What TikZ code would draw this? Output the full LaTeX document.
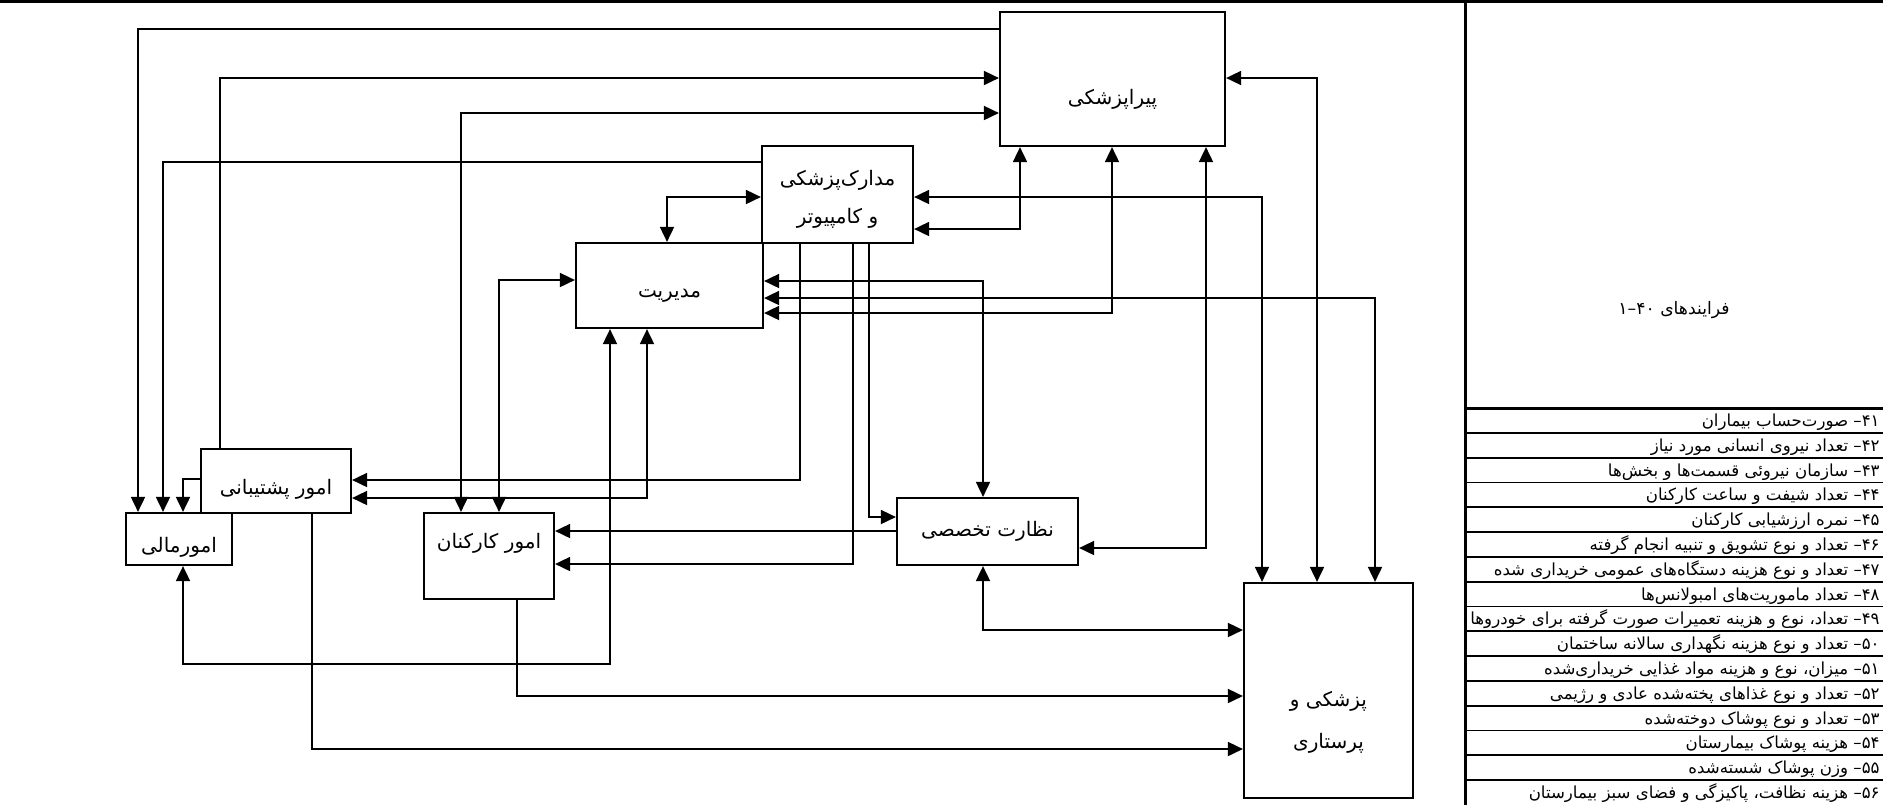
\documentclass[tikz,border=0pt]{standalone}
\usepackage{fontspec}
\setmainfont{DejaVu Sans}
\newfontfamily\fa[Script=Arabic]{DejaVu Sans}
\TeXXeTstate=1
\usetikzlibrary{arrows.meta}
\newcommand{\RL}[1]{\beginR #1\endR}
\tikzset{
  box/.style={draw, line width=1.1pt, inner sep=0pt},
  lbl/.style={font=\fa\fontsize{10}{19}\selectfont, align=center, inner sep=0pt},
  lblna/.style={font=\fa\fontsize{10}{19}\selectfont, inner sep=0pt},
  arr/.style={line width=0.9pt, -{Triangle[length=7.5pt,width=7pt]}},
  darr/.style={line width=0.9pt, {Triangle[length=7.5pt,width=7pt]}-{Triangle[length=7.5pt,width=7pt]}},
  rowtxt/.style={font=\fa\fontsize{8.3}{10}\selectfont, anchor=base east, inner sep=0pt},
  frame/.style={line width=1.5pt},
  rowline/.style={line width=0.9pt},
}
\begin{document}
\begin{tikzpicture}[x=0.5pt,y=-0.5pt]
\useasboundingbox (0,0) rectangle (1883,805);
% frame
\draw[frame] (0,1) -- (1883,1);
\draw[frame] (1465,0) -- (1465,805);
\draw[frame] (1465,408) -- (1883,408);
\foreach \k in {1,...,15} {\draw[rowline] (1465,408+24.8*\k) -- (1883,408+24.8*\k);}
\node[font=\fa\fontsize{8.6}{10}\selectfont, inner sep=0pt] (proc) at (1674,310) {\RL{فرایندهای ۴۰\kern0pt–\kern0pt۱}};
% boxes
\node[box, minimum width=112.5pt, minimum height=67pt,
  label={[lbl,yshift=-10pt]center:\RL{پیراپزشکی}}] (para) at (1112.5,79) {};
\node[box, minimum width=75.5pt, minimum height=48.5pt,
  label={[lbl,yshift=-2.5pt]center:\RL{مدارک‌پزشکی}\\\RL{و کامپیوتر}}] (madarek) at (837.5,194.5) {};
\node[box, minimum width=93.5pt, minimum height=42.5pt,
  label={[lbl,yshift=-5pt]center:\RL{مدیریت}}] (mod) at (669.5,285.5) {};
\node[box, minimum width=75pt, minimum height=32pt,
  label={[lbl,yshift=-4pt]center:\RL{امور پشتیبانی}}] (posht) at (276,481) {};
\node[box, minimum width=53pt, minimum height=26pt,
  label={[lbl,yshift=-4pt]center:\RL{امورمالی}}] (mali) at (179,539) {};
\node[box, minimum width=65pt, minimum height=43pt,
  label={[lblna,yshift=6.5pt]center:\RL{امور کارکنان}}] (kar) at (489,556) {};
\node[box, minimum width=90.5pt, minimum height=33.5pt,
  label={[lbl]center:\RL{نظارت تخصصی}}] (nez) at (987.5,531.5) {};
\node[box, minimum width=84.5pt, minimum height=107.5pt,
  label={[lbl,font=\fa\fontsize{10}{21}\selectfont,yshift=-16pt]center:\RL{پزشکی و}\\\RL{پرستاری}}] (pez) at (1328.5,690.5) {};
% connectors
\draw[arr] (para.west |- 0,29) -| (mali.north -| 138,0);
\draw[arr] (posht.north -| 220,0) |- (para.west |- 0,78);
\draw[darr] (para.west |- 0,113) -| (kar.north -| 461,0);
\draw[arr] (madarek.west |- 0,162) -| (mali.north -| 163,0);
\draw[arr] (posht.west |- 0,479) -| (mali.north -| 183,0);
\draw[darr] (madarek.west |- 0,197) -| (mod.north -| 667,0);
\draw[darr] (mod.west |- 0,280) -| (kar.north -| 499,0);
\draw[darr] (mod.south -| 610,0) |- (183,664) -- (mali.south -| 183,0);
\draw[darr] (mod.south -| 647,0) |- (posht.east |- 0,498);
\draw[arr] (madarek.south -| 800,0) |- (posht.east |- 0,480);
\draw[arr] (posht.south -| 312,0) |- (pez.west |- 0,749);
\draw[arr] (nez.west |- 0,531) -- (kar.east |- 0,531);
\draw[arr] (madarek.south -| 853,0) |- (kar.east |- 0,564);
\draw[arr] (madarek.south -| 869,0) |- (nez.west |- 0,517);
\draw[arr] (kar.south -| 517,0) |- (pez.west |- 0,696);
\draw[darr] (mod.east |- 0,281) -| (nez.north -| 983,0);
\draw[darr] (nez.east |- 0,548) -| (para.south -| 1206,0);
\draw[darr] (nez.south -| 983,0) |- (pez.west |- 0,630);
\draw[darr] (madarek.east |- 0,197) -| (pez.north -| 1262,0);
\draw[darr] (para.east |- 0,78) -| (pez.north -| 1317,0);
\draw[darr] (mod.east |- 0,298) -| (pez.north -| 1375,0);
\draw[darr] (madarek.east |- 0,229) -| (para.south -| 1020,0);
\draw[darr] (mod.east |- 0,313) -| (para.south -| 1112,0);
% table rows
\node[rowtxt] (r41) at (1880,426.5) {\RL{۴۱\kern0pt–\ صورت‌حساب بیماران}};
\node[rowtxt] (r42) at (1880,451.3) {\RL{۴۲\kern0pt–\ تعداد نیروی انسانی مورد نیاز}};
\node[rowtxt] (r43) at (1880,476.1) {\RL{۴۳\kern0pt–\ سازمان نیروئی قسمت‌ها و بخش‌ها}};
\node[rowtxt] (r44) at (1880,500.9) {\RL{۴۴\kern0pt–\ تعداد شیفت و ساعت کارکنان}};
\node[rowtxt] (r45) at (1880,525.7) {\RL{۴۵\kern0pt–\ نمره ارزشیابی کارکنان}};
\node[rowtxt] (r46) at (1880,550.5) {\RL{۴۶\kern0pt–\ تعداد و نوع تشویق و تنبیه انجام گرفته}};
\node[rowtxt] (r47) at (1880,575.3) {\RL{۴۷\kern0pt–\ تعداد و نوع هزینه دستگاه‌های عمومی خریداری شده}};
\node[rowtxt] (r48) at (1880,600.1) {\RL{۴۸\kern0pt–\ تعداد ماموریت‌های امبولانس‌ها}};
\node[rowtxt] (r49) at (1880,624.9) {\RL{۴۹\kern0pt–\ تعداد، نوع و هزینه تعمیرات صورت گرفته برای خودروها}};
\node[rowtxt] (r50) at (1880,649.7) {\RL{۵۰\kern0pt–\ تعداد و نوع هزینه نگهداری سالانه ساختمان}};
\node[rowtxt] (r51) at (1880,674.5) {\RL{۵۱\kern0pt–\ میزان، نوع و هزینه مواد غذایی خریداری‌شده}};
\node[rowtxt] (r52) at (1880,699.3) {\RL{۵۲\kern0pt–\ تعداد و نوع غذاهای پخته‌شده عادی و رژیمی}};
\node[rowtxt] (r53) at (1880,724.1) {\RL{۵۳\kern0pt–\ تعداد و نوع پوشاک دوخته‌شده}};
\node[rowtxt] (r54) at (1880,748.9) {\RL{۵۴\kern0pt–\ هزینه پوشاک بیمارستان}};
\node[rowtxt] (r55) at (1880,773.7) {\RL{۵۵\kern0pt–\ وزن پوشاک شسته‌شده}};
\node[rowtxt] (r56) at (1880,798.5) {\RL{۵۶\kern0pt–\ هزینه نظافت، پاکیزگی و فضای سبز بیمارستان}};
\end{tikzpicture}
\end{document}
